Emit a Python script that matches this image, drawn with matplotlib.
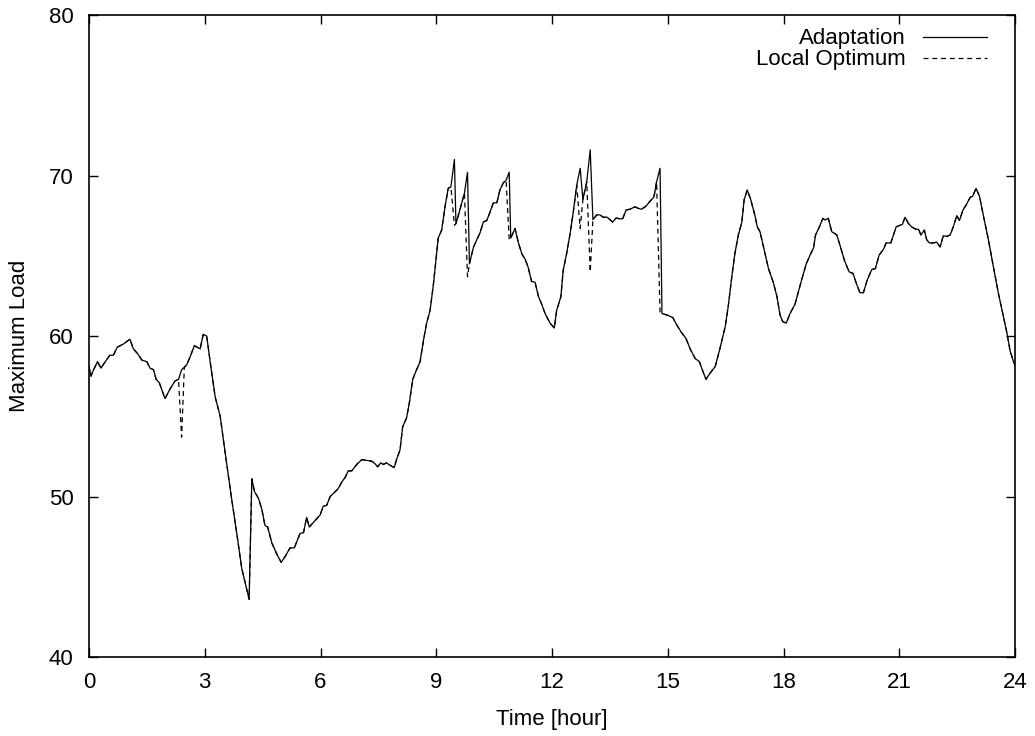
import matplotlib
matplotlib.use('Agg')
import matplotlib.pyplot as plt

plt.rcParams['font.family'] = ['Liberation Sans', 'DejaVu Sans']
plt.rcParams['font.size'] = 16

# load over the day, sampled a few times per hour
hours = [
    0.00, 0.05, 0.10, 0.22, 0.31, 0.42, 0.54, 0.63, 0.73, 0.89,
    1.06, 1.15, 1.26, 1.37, 1.50, 1.58, 1.67, 1.74, 1.82, 1.97,
    2.10, 2.23, 2.32, 2.40, 2.47, 2.53, 2.62, 2.73, 2.88, 2.96,
    3.05, 3.14, 3.27, 3.40, 3.53, 3.70, 3.83, 3.96, 4.15, 4.22,
    4.29, 4.39, 4.48, 4.56, 4.63, 4.74, 4.87, 4.98, 5.08, 5.21,
    5.32, 5.47, 5.56, 5.64, 5.71, 5.82, 5.99, 6.07, 6.16, 6.25,
    6.38, 6.46, 6.55, 6.64, 6.72, 6.81, 6.94, 7.07, 7.20, 7.33,
    7.41, 7.48, 7.56, 7.63, 7.71, 7.80, 7.91, 7.97, 8.06, 8.13,
    8.23, 8.30, 8.39, 8.49, 8.58, 8.67, 8.75, 8.84, 8.93, 8.99,
    9.05, 9.14, 9.23, 9.31, 9.38, 9.47, 9.51, 9.57, 9.66, 9.73,
    9.81, 9.86, 9.96, 10.05, 10.13, 10.22, 10.31, 10.39, 10.48, 10.57,
    10.65, 10.74, 10.81, 10.89, 10.93, 11.04, 11.13, 11.22, 11.30, 11.38,
    11.47, 11.56, 11.65, 11.73, 11.82, 11.95, 12.06, 12.12, 12.23, 12.29,
    12.38, 12.47, 12.55, 12.64, 12.73, 12.80, 12.90, 12.99, 13.06, 13.16,
    13.24, 13.33, 13.43, 13.50, 13.57, 13.66, 13.76, 13.83, 13.92, 14.02,
    14.15, 14.24, 14.32, 14.44, 14.54, 14.64, 14.71, 14.80, 14.85, 14.99,
    15.13, 15.23, 15.36, 15.47, 15.58, 15.71, 15.82, 15.91, 15.99, 16.10,
    16.23, 16.35, 16.49, 16.57, 16.66, 16.74, 16.83, 16.92, 16.98, 17.06,
    17.15, 17.26, 17.32, 17.39, 17.50, 17.61, 17.74, 17.83, 17.91, 17.98,
    18.07, 18.17, 18.30, 18.39, 18.47, 18.59, 18.69, 18.78, 18.83, 18.93,
    19.02, 19.07, 19.16, 19.25, 19.38, 19.47, 19.58, 19.70, 19.80, 19.90,
    19.98, 20.07, 20.17, 20.29, 20.38, 20.48, 20.59, 20.66, 20.78, 20.85,
    20.92, 21.02, 21.08, 21.15, 21.24, 21.32, 21.43, 21.50, 21.56, 21.65,
    21.71, 21.78, 21.88, 21.97, 22.06, 22.14, 22.23, 22.32, 22.40, 22.49,
    22.56, 22.65, 22.73, 22.84, 22.90, 22.99, 23.08, 23.18, 23.31, 23.44,
    23.57, 23.70, 23.79, 23.87, 23.96, 24.00,
]

adaptation = [
    58.1, 57.5, 57.8, 58.4, 58.0, 58.4, 58.8, 58.8, 59.3, 59.5,
    59.8, 59.2, 58.9, 58.5, 58.4, 58.0, 57.9, 57.3, 57.1, 56.1,
    56.7, 57.2, 57.3, 57.9, 58.05, 58.2, 58.7, 59.4, 59.2, 60.1,
    60.0, 58.4, 56.2, 55.0, 52.7, 49.8, 47.7, 45.5, 43.6, 51.1,
    50.3, 49.9, 49.2, 48.2, 48.1, 47.1, 46.4, 45.9, 46.25, 46.8,
    46.8, 47.7, 47.75, 48.7, 48.1, 48.4, 48.85, 49.4, 49.45, 50.0,
    50.3, 50.5, 50.9, 51.2, 51.6, 51.6, 52.0, 52.3, 52.25, 52.2,
    52.05, 51.85, 52.1, 52.0, 52.1, 51.95, 51.8, 52.3, 52.9, 54.35,
    54.9, 55.8, 57.3, 57.9, 58.4, 59.75, 60.8, 61.6, 63.3, 64.7,
    66.1, 66.6, 68.1, 69.2, 69.3, 71.0, 67.0, 67.5, 68.3, 68.9,
    70.2, 64.5, 65.5, 66.0, 66.4, 67.1, 67.2, 67.7, 68.3, 68.3,
    69.1, 69.55, 69.7, 70.2, 66.1, 66.7, 65.8, 65.1, 64.8, 64.3,
    63.4, 63.35, 62.45, 62.0, 61.4, 60.8, 60.5, 61.6, 62.45, 64.1,
    65.15, 66.4, 67.7, 69.4, 70.45, 68.5, 69.6, 71.6, 67.25, 67.55,
    67.55, 67.4, 67.4, 67.25, 67.1, 67.35, 67.3, 67.3, 67.85, 67.9,
    68.05, 67.95, 67.9, 68.1, 68.4, 68.65, 69.6, 70.45, 61.4, 61.3,
    61.15, 60.7, 60.2, 59.86, 59.2, 58.6, 58.4, 57.8, 57.3, 57.7,
    58.1, 59.2, 60.6, 61.9, 63.7, 65.15, 66.3, 67.1, 68.5, 69.1,
    68.5, 67.5, 66.8, 66.5, 65.35, 64.2, 63.3, 62.45, 61.3, 60.9,
    60.8, 61.4, 62.0, 62.8, 63.5, 64.5, 65.05, 65.5, 66.3, 66.8,
    67.33, 67.23, 67.33, 66.5, 66.3, 65.6, 64.7, 64.0, 63.9, 63.2,
    62.7, 62.7, 63.5, 64.15, 64.2, 65.05, 65.4, 65.8, 65.8, 66.3,
    66.8, 66.9, 66.95, 67.4, 67.0, 66.8, 66.65, 66.65, 66.3, 66.6,
    66.0, 65.8, 65.8, 65.85, 65.55, 66.25, 66.2, 66.3, 66.8, 67.5,
    67.2, 67.85, 68.15, 68.65, 68.7, 69.2, 68.7, 67.5, 66.0, 64.3,
    62.65, 61.2, 60.2, 59.1, 58.4, 58.2,
]

# samples where the local optimum differs from the adapted value
dip_hours = [2.40, 9.47, 9.81, 10.89, 12.73, 12.99, 14.80]
dip_loads = [53.7, 66.9, 63.7, 66.0, 66.7, 64.0, 61.5]

dips = dict(zip(dip_hours, dip_loads))
local_optimum = [dips.get(h, v) for h, v in zip(hours, adaptation)]

fig = plt.figure(figsize=(10.35, 7.36), dpi=100)
ax = fig.add_axes([0.0860, 0.1073, 0.8947, 0.8723])

ax.plot(hours, adaptation, color='black', linewidth=0.9, label='Adaptation')
ax.plot(hours, local_optimum, color='black', linewidth=0.9,
        dashes=(4, 3), label='Local Optimum')

ax.set_xlim(0, 24)
ax.set_ylim(40, 80)
ax.set_xticks(range(0, 25, 3))
ax.set_yticks(range(40, 81, 10))
ax.tick_params(direction='in', length=6.5, width=1, pad=11,
               top=True, right=True, labelsize=16)
for spine in ax.spines.values():
    spine.set_linewidth(1.2)

ax.set_xlabel('Time [hour]', fontsize=16)
ax.set_ylabel('Maximum Load', fontsize=16)
ax.xaxis.set_label_coords(0.5, -0.081)
ax.yaxis.set_label_coords(-0.064, 0.5)

ax.legend(loc='upper right', bbox_to_anchor=(0.970, 0.979), frameon=False,
          markerfirst=False, handlelength=2.9, handletextpad=0.75,
          labelspacing=0.0, borderpad=0, borderaxespad=0, fontsize=16)

fig.savefig('out.png', dpi=100)
